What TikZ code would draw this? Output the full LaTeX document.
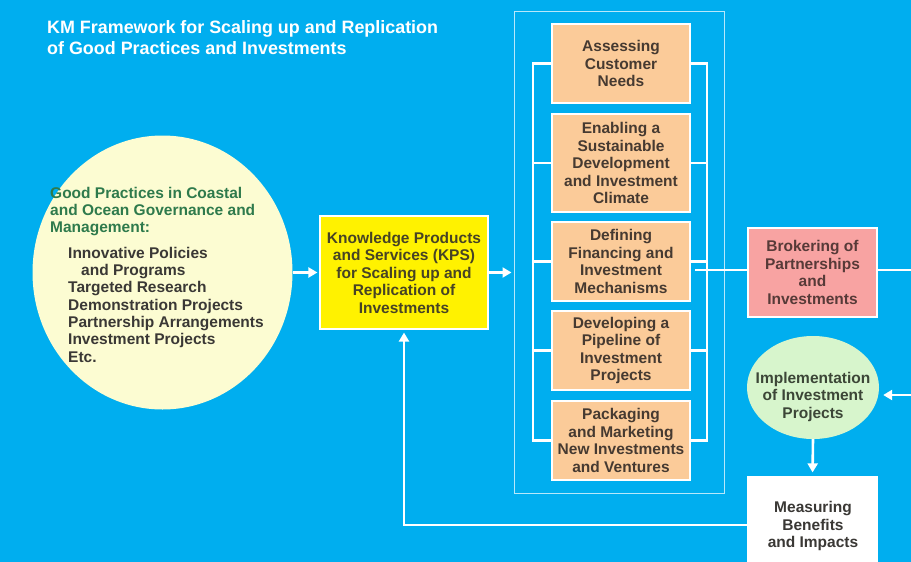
\documentclass[tikz,border=0pt]{standalone}
\usepackage{fontspec}
\setmainfont{Liberation Sans}
\usetikzlibrary{shapes.geometric,arrows.meta}
\definecolor{sea}{HTML}{00AEEF}
\definecolor{cream}{HTML}{FCFCD2}
\definecolor{kpsyellow}{HTML}{FFF200}
\definecolor{peach}{HTML}{FBCB99}
\definecolor{rose}{HTML}{F8A3A2}
\definecolor{mint}{HTML}{D7F5CC}
\definecolor{headgreen}{HTML}{2E7A4C}
\definecolor{inkgray}{HTML}{3A3835}
\definecolor{inkbrown}{HTML}{463A31}
\definecolor{kpsink}{HTML}{474325}
\definecolor{brokink}{HTML}{573A38}
\definecolor{implink}{HTML}{3C4637}
\definecolor{framecol}{HTML}{B8E8FB}
\tikzset{
  body/.style={font=\fontsize{15.5}{17.5}\selectfont\bfseries, align=center, text=inkbrown, inner sep=0pt},
  listtext/.style={font=\fontsize{15.5}{17.35}\selectfont\bfseries, align=left, anchor=north west, inner sep=0pt},
  box/.style={draw=white, line width=1.2pt, rectangle, inner sep=0pt},
  stepbox/.style={box, fill=peach, minimum width=138pt},
  arr/.style={draw=white, line width=2.6pt, -{Triangle[length=9pt,width=10pt]}},
  wire/.style={draw=white, line width=2.6pt},
}
\begin{document}
\begin{tikzpicture}[x=1pt,y=-1pt]
\fill[sea] (0,0) rectangle (911,562);
\useasboundingbox (0,0) rectangle (911,562);
\clip (0,0) rectangle (911,562);

% title
\node[anchor=north west, inner sep=0pt, align=left, text=white,
      font=\fontsize{17.9}{21}\selectfont\bfseries] (title) at (47,20.1)
  {KM Framework for Scaling up and Replication\\of Good Practices and Investments};

% good practices
\node[ellipse, fill=cream, minimum width=260pt, minimum height=274pt, inner sep=0pt] (gp) at (162.5,272.5) {};
\node[listtext, text=headgreen] (gphead) at (50,186.7)
  {Good Practices in Coastal\\and Ocean Governance and\\Management:};
\node[listtext, text=inkgray] (gplist) at (68,246.7)
  {Innovative Policies\\\hspace*{13pt}and Programs\\Targeted Research\\Demonstration Projects\\Partnership Arrangements\\Investment Projects\\Etc.};

% knowledge products and services
\node[box, fill=kpsyellow, minimum width=168pt, minimum height=113pt, body, text=kpsink] (kps) at (404,272.5)
  {Knowledge Products\\and Services (KPS)\\for Scaling up and\\Replication of\\Investments};

% frame around the steps
\node[draw=framecol, line width=1pt, minimum width=210pt, minimum height=482pt, inner sep=0pt] (frame) at (619,252) {};

% steps
\node[stepbox, minimum height=79pt, body] (s1) at (621,63.5) {Assessing\\Customer\\Needs};
\node[stepbox, minimum height=98pt, body] (s2) at (621,163) {Enabling a\\Sustainable\\Development\\and Investment\\Climate};
\node[stepbox, minimum height=79pt, body] (s3) at (621,261.5) {Defining\\Financing and\\Investment\\Mechanisms};
\node[stepbox, minimum height=79pt, body] (s4) at (621,350.5) {Developing a\\Pipeline of\\Investment\\Projects};
\node[stepbox, minimum height=79pt, body] (s5) at (621,440.5) {Packaging\\and Marketing\\New Investments\\and Ventures};

% brackets joining the steps
\coordinate (lb) at (533,0);
\coordinate (rb) at (707,0);
\draw[wire] (s1.west) -- (s1.west -| lb) -- (s5.west -| lb) -- (s5.west);
\draw[wire] (s1.east) -- (s1.east -| rb) -- (s5.east -| rb) -- (s5.east);
\foreach \s in {s2,s3,s4} {
  \draw[wire] (\s.west) -- (\s.west -| lb);
  \draw[wire] (\s.east) -- (\s.east -| rb);
}

% brokering
\node[box, fill=rose, minimum width=129pt, minimum height=89pt, body, text=brokink] (brk) at (812.5,272.5)
  {Brokering of\\Partnerships\\and\\Investments};
\coordinate (tap) at (695,270);
\coordinate (edgeR) at (911,270);
\draw[wire] (tap) -- (tap -| brk.west);
\draw[wire] (brk.east |- tap) -- (edgeR);

% implementation
\node[ellipse, fill=mint, minimum width=132pt, minimum height=103pt, inner sep=0pt] (impl) at (813,387.5) {};
\node[body, text=implink] (impltxt) at (813,396.5) {Implementation\\of Investment\\Projects};
\coordinate (inR) at (911,395);
\draw[arr, shorten >=4pt] (inR) -- (inR -| impl.east);

% measuring
\node[box, fill=white, minimum width=129pt, minimum height=110pt] (meas) at (812.5,532) {};
\node[body, text=inkgray] (meastxt) at (813,526) {Measuring\\Benefits\\and Impacts};
\draw[arr, shorten >=4pt] (impl.south) -- (meas.north);

% flow arrows
\draw[arr, shorten >=2pt] (gp.east) -- (kps.west);
\draw[arr, shorten >=2pt] (kps.east) -- (kps.east -| frame.west);
\coordinate (fb) at (0,525);
\draw[arr, shorten >=3pt] (meas.west |- fb) -| (kps.south);
\end{tikzpicture}
\end{document}
